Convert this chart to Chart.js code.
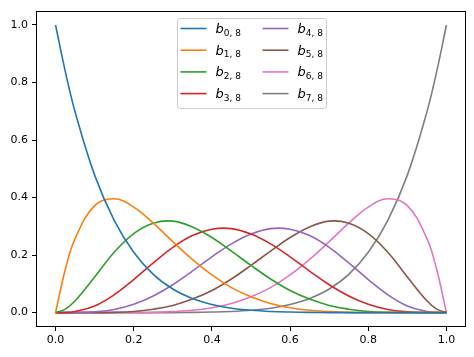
<!DOCTYPE html>
<html>
<head>
<meta charset="utf-8">
<script src="https://cdn.jsdelivr.net/npm/chart.js@4/dist/chart.umd.min.js"></script>
<style>
  html, body { margin: 0; padding: 0; background: #fff; }
  #wrap { width: 474px; height: 357px; }
</style>
</head>
<body>
<div id="wrap"><canvas id="c" width="474" height="357"></canvas></div>
<script>
// ---- data ----
const xs = [0, 0.025, 0.05, 0.1, 0.15, 0.2, 0.25, 0.3, 0.35, 0.4, 0.45, 0.5, 0.55, 0.6, 0.65, 0.7, 0.75, 0.8, 0.85, 0.9, 0.95, 0.975, 1];
const b0 = [1, 0.838, 0.698, 0.478, 0.321, 0.210, 0.133, 0.082, 0.049, 0.028, 0.015, 0.008, 0.004, 0.002, 0.001, 0, 0, 0, 0, 0, 0, 0, 0];
const b1 = [0, 0.150, 0.257, 0.372, 0.396, 0.367, 0.311, 0.247, 0.185, 0.131, 0.087, 0.055, 0.032, 0.017, 0.008, 0.004, 0.001, 0, 0, 0, 0, 0, 0];
const b2 = [0, 0.012, 0.041, 0.124, 0.210, 0.275, 0.311, 0.318, 0.298, 0.261, 0.214, 0.164, 0.117, 0.077, 0.047, 0.025, 0.012, 0.004, 0.001, 0, 0, 0, 0];
const b3 = [0, 0, 0.004, 0.023, 0.062, 0.115, 0.173, 0.227, 0.268, 0.290, 0.292, 0.273, 0.239, 0.194, 0.144, 0.097, 0.058, 0.029, 0.011, 0.003, 0, 0, 0];
const b4 = [0, 0, 0, 0.003, 0.011, 0.029, 0.058, 0.097, 0.144, 0.194, 0.239, 0.273, 0.292, 0.290, 0.268, 0.227, 0.173, 0.115, 0.062, 0.023, 0.004, 0, 0];
const b5 = [0, 0, 0, 0, 0.001, 0.004, 0.012, 0.025, 0.047, 0.077, 0.117, 0.164, 0.214, 0.261, 0.298, 0.318, 0.311, 0.275, 0.210, 0.124, 0.041, 0.012, 0];
const b6 = [0, 0, 0, 0, 0, 0, 0.001, 0.004, 0.008, 0.017, 0.032, 0.055, 0.087, 0.131, 0.185, 0.247, 0.311, 0.367, 0.396, 0.372, 0.257, 0.150, 0];
const b7 = [0, 0, 0, 0, 0, 0, 0, 0, 0.001, 0.002, 0.004, 0.008, 0.015, 0.028, 0.049, 0.082, 0.133, 0.210, 0.321, 0.478, 0.698, 0.838, 1];
const seriesBase = 'b';
const seriesSubs = ['0, 8', '1, 8', '2, 8', '3, 8', '4, 8', '5, 8', '6, 8', '7, 8'];
const xTicks = [0, 0.2, 0.4, 0.6, 0.8, 1.0];
const yTicks = [0, 0.2, 0.4, 0.6, 0.8, 1.0];

const series = [b0, b1, b2, b3, b4, b5, b6, b7];
const colors = ['#1f77b4', '#ff7f0e', '#2ca02c', '#d62728', '#9467bd', '#8c564b', '#e377c2', '#7f7f7f'];

const datasets = series.map((ys, i) => ({
  label: seriesBase + seriesSubs[i],
  data: xs.map((x, k) => ({ x: x, y: ys[k] })),
  borderColor: colors[i],
  backgroundColor: colors[i],
  borderWidth: 1.6,
  pointRadius: 0,
  fill: false,
  tension: 0.4
}));

const framePlugin = {
  id: 'frame',
  afterDatasetsDraw(chart) {
    const { ctx, chartArea: a } = chart;
    ctx.save();
    ctx.strokeStyle = '#000';
    ctx.lineWidth = 1;
    ctx.strokeRect(Math.round(a.left) + 0.5, Math.round(a.top) + 0.5, Math.round(a.right - a.left) - 1, Math.round(a.bottom - a.top) - 1);
    ctx.restore();
  }
};

const legendPlugin = {
  id: 'mplLegend',
  afterDraw(chart) {
    const { ctx, chartArea: a } = chart;
    const boxW = 149, boxH = 90;
    const cx = (a.left + a.right) / 2;
    const bx = Math.round(cx - boxW / 2) + 0.5, by = Math.round(a.top + 7) + 0.5;
    ctx.save();
    const r = 3;
    ctx.beginPath();
    ctx.moveTo(bx + r, by);
    ctx.lineTo(bx + boxW - r, by);
    ctx.quadraticCurveTo(bx + boxW, by, bx + boxW, by + r);
    ctx.lineTo(bx + boxW, by + boxH - r);
    ctx.quadraticCurveTo(bx + boxW, by + boxH, bx + boxW - r, by + boxH);
    ctx.lineTo(bx + r, by + boxH);
    ctx.quadraticCurveTo(bx, by + boxH, bx, by + boxH - r);
    ctx.lineTo(bx, by + r);
    ctx.quadraticCurveTo(bx, by, bx + r, by);
    ctx.closePath();
    ctx.fillStyle = 'rgba(255,255,255,0.8)';
    ctx.fill();
    ctx.strokeStyle = '#cccccc';
    ctx.lineWidth = 1;
    ctx.stroke();
    const rowGap = 21.7;
    chart.data.datasets.forEach((ds, i) => {
      const col = Math.floor(i / 4), row = i % 4;
      const lx = bx + 3 + col * 82;
      const ly = by + 10 + row * rowGap;
      ctx.strokeStyle = ds.borderColor;
      ctx.lineWidth = 1.6;
      ctx.beginPath();
      ctx.moveTo(lx, ly);
      ctx.lineTo(lx + 26, ly);
      ctx.stroke();
      const tx = lx + 35;
      ctx.fillStyle = '#000';
      ctx.textBaseline = 'alphabetic';
      ctx.textAlign = 'left';
      ctx.font = 'italic 13px "DejaVu Sans"';
      ctx.fillText(seriesBase, tx, ly + 4.5);
      const w = ctx.measureText(seriesBase).width;
      ctx.font = '9px "DejaVu Sans"';
      ctx.fillText(seriesSubs[i], tx + w, ly + 7);
    });
    ctx.restore();
  }
};

new Chart(document.getElementById('c'), {
  type: 'line',
  data: { datasets },
  plugins: [framePlugin, legendPlugin],
  options: {
    responsive: false,
    animation: false,
    events: [],
    layout: { padding: { left: 0, right: 8, top: 8, bottom: 0 } },
    plugins: { legend: { display: false }, tooltip: { enabled: false } },
    scales: {
      x: {
        type: 'linear',
        min: -0.05,
        max: 1.05,
        afterBuildTicks(scale) { scale.ticks = xTicks.map(v => ({ value: v })); },
        afterFit(scale) { scale.height = 30; },
        border: { display: false },
        grid: { drawOnChartArea: false, drawTicks: true, tickLength: 4, color: '#000', tickWidth: 1 },
        ticks: {
          color: '#000',
          font: { family: 'DejaVu Sans', size: 11 },
          padding: 3,
          maxRotation: 0,
          callback: v => Number(v).toFixed(1)
        }
      },
      y: {
        type: 'linear',
        min: -0.05,
        max: 1.05,
        afterBuildTicks(scale) { scale.ticks = yTicks.map(v => ({ value: v })); },
        afterFit(scale) { scale.width = 36; },
        border: { display: false },
        grid: { drawOnChartArea: false, drawTicks: true, tickLength: 4, color: '#000', tickWidth: 1 },
        ticks: {
          color: '#000',
          font: { family: 'DejaVu Sans', size: 11 },
          padding: 4,
          callback: v => Number(v).toFixed(1)
        }
      }
    }
  }
});
</script>
</body>
</html>
